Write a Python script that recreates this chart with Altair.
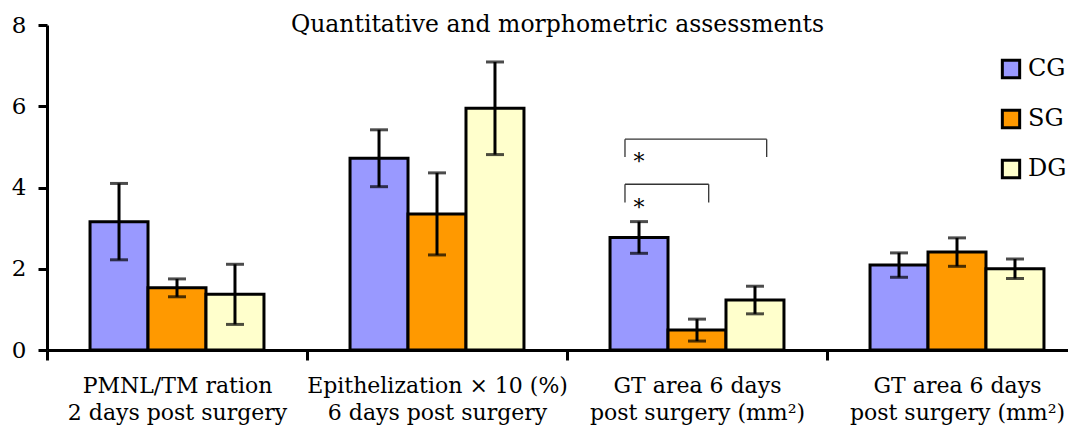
import altair as alt
import pandas as pd

# ---- data ----
cat_line1 = ["PMNL/TM ration", "Epithelization × 10 (%)", "GT area 6 days", "GT area 6 days"]
cat_line2 = ["2 days post surgery", "6 days post surgery", "post surgery (mm²)", "post surgery (mm²)"]
groups = ["CG", "SG", "DG"]
colors = ["#9999FF", "#FF9900", "#FFFFCC"]

cg_mean = [3.16, 4.72, 2.77, 2.09]
cg_err = [0.94, 0.70, 0.39, 0.30]
sg_mean = [1.53, 3.35, 0.49, 2.41]
sg_err = [0.22, 1.01, 0.27, 0.35]
dg_mean = [1.37, 5.95, 1.23, 2.00]
dg_err = [0.74, 1.14, 0.34, 0.24]

# significance brackets (category index, first group, second group, top value, drop value)
sig_cat = [2, 2]
sig_from = ["CG", "CG"]
sig_to = ["SG", "DG"]
sig_top = [4.08, 5.19]
sig_bottom = [3.63, 4.75]
sig_label = ["*", "*"]

title_text = "Quantitative and morphometric assessments"
FONT = "DejaVu Serif"

# ---- layout helpers ----
BW = 0.223  # bar width in category units
XMAX = 1021 / 260


def bar_left(ci, gi):
    return ci + 0.5 + (gi - 1.5) * BW


rows = []
means = [cg_mean, sg_mean, dg_mean]
errs = [cg_err, sg_err, dg_err]
for gi, g in enumerate(groups):
    for ci in range(len(cat_line1)):
        m, e = means[gi][ci], errs[gi][ci]
        x0 = bar_left(ci, gi)
        rows.append(dict(group=g, cat=ci, mean=m, x0=x0, x1=x0 + BW,
                         xc=x0 + BW / 2, lo=m - e, hi=m + e, order=gi))
df = pd.DataFrame(rows)

seg = []
stars = []
for ci, a, b, t, bt, lab in zip(sig_cat, sig_from, sig_to, sig_top, sig_bottom, sig_label):
    xa = bar_left(ci, groups.index(a)) + BW / 2 - 0.054
    xb = bar_left(ci, groups.index(b)) + BW / 2 + 0.045
    seg.append(dict(xa=xa, xb=xb, ya=t, yb=t))
    seg.append(dict(xa=xa, xb=xa, ya=t, yb=bt))
    seg.append(dict(xa=xb, xb=xb, ya=t, yb=bt))
    stars.append(dict(x=bar_left(ci, groups.index(a)) + BW / 2, y=bt - 0.3, t=lab))
seg_df = pd.DataFrame(seg)
star_df = pd.DataFrame(stars)

labels_js = "[" + ",".join("'" + a + "|" + b + "'" for a, b in zip(cat_line1, cat_line2)) + "]"
label_expr = f"datum.value % 1 == 0.5 ? split({labels_js}[floor(datum.value)], '|') : ''"

xscale = alt.Scale(domain=[0, XMAX], nice=False, zero=False)
yscale = alt.Scale(domain=[0, 8], nice=False)

xaxis = alt.Axis(
    values=[0, 0.5, 1, 1.5, 2, 2.5, 3, 3.5],
    labelExpr=label_expr,
    tickSize=10, tickWidth=3, tickColor="black",
    tickOpacity={"condition": {"test": "datum.value % 1 != 0", "value": 0}, "value": 1},
    domainWidth=3, domainColor="black",
    labelFont=FONT, labelFontSize=22, labelColor="black", labelLineHeight=27,
    labelPadding=15, labelOverlap=False, labelFlush=False, labelBound=False,
    labelLimit=0, grid=False, title=None,
)
yaxis = alt.Axis(
    values=[0, 2, 4, 6, 8], tickSize=9, tickWidth=3, tickColor="black",
    domainWidth=3, domainColor="black", labelFont=FONT, labelFontSize=23,
    labelColor="black", labelPadding=12, grid=False, title=None,
)

base = alt.Chart(df)
bars = base.mark_bar(stroke="black", strokeWidth=3).encode(
    x=alt.X("x0:Q", scale=xscale, axis=xaxis),
    x2="x1:Q",
    y=alt.Y("mean:Q", scale=yscale, axis=yaxis),
    y2=alt.datum(0),
    color=alt.Color("group:N", scale=alt.Scale(domain=groups, range=colors),
                    legend=alt.Legend(title=None, orient="none", legendX=952, legendY=32,
                                      symbolType="square", symbolSize=300,
                                      symbolStrokeColor="black", symbolStrokeWidth=3,
                                      symbolOpacity=1, labelFont=FONT, labelFontSize=24,
                                      labelColor="black", rowPadding=20, labelOffset=5,
                                      padding=0, labelLimit=0)),
)
err = base.mark_rule(color="black", strokeWidth=3).encode(
    x="xc:Q", y="lo:Q", y2="hi:Q")
cap_hi = base.mark_tick(color="black", thickness=3, size=18, orient="horizontal").encode(
    x="xc:Q", y="hi:Q")
cap_lo = base.mark_tick(color="black", thickness=3, size=18, orient="horizontal").encode(
    x="xc:Q", y="lo:Q")

brackets = alt.Chart(seg_df).mark_rule(color="#333333", strokeWidth=1.3).encode(
    x="xa:Q", x2="xb:Q", y="ya:Q", y2="yb:Q")
star_txt = alt.Chart(star_df).mark_text(font=FONT, fontSize=22, color="black",
                                        baseline="alphabetic").encode(
    x="x:Q", y="y:Q", text="t:N")

chart = alt.layer(bars, err, cap_hi, cap_lo, brackets, star_txt).properties(
    width=1021, height=325,
    autosize=alt.AutoSizeParams(type="none"),
    padding={"left": 39, "top": 17, "right": 0, "bottom": 78},
    title=alt.TitleParams(title_text, font=FONT, fontSize=23.5, fontWeight="normal",
                          color="black", anchor="middle", offset=-22),
).configure_view(stroke=None)

chart.save("out.html", embed_options={"renderer": "svg", "actions": False})
